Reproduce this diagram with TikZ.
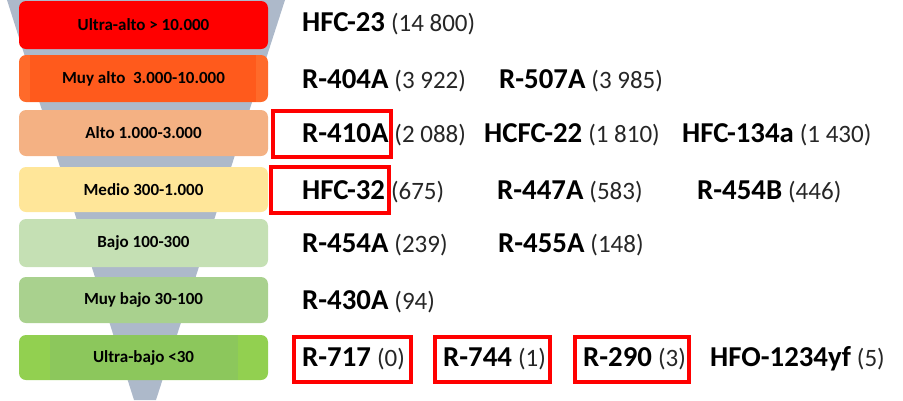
\documentclass[tikz,border=0pt]{standalone}
\usepackage{fontspec}
\setmainfont{Carlito}
\definecolor{funnelc}{HTML}{ADB9CA}
\definecolor{cA}{HTML}{FF0000}
\definecolor{cBo}{HTML}{FF6A2A}
\definecolor{cBi}{HTML}{FF5A1C}
\definecolor{cC}{HTML}{F4B183}
\definecolor{cD}{HTML}{FFE699}
\definecolor{cE}{HTML}{C5E0B4}
\definecolor{cF}{HTML}{A9D18E}
\definecolor{cGo}{HTML}{92D050}
\definecolor{cGi}{HTML}{8CC75C}
\definecolor{hlred}{HTML}{FF0000}
\definecolor{numc}{HTML}{262626}
\newcommand{\gnm}[1]{{\fontsize{28.8}{28.8}\selectfont\bfseries #1}}
\newcommand{\gwp}[1]{\hspace{6pt}{\fontsize{25}{25}\selectfont\color{numc}#1}}
\begin{document}
\begin{tikzpicture}[x=1pt,y=-1pt,
  lvl/.style={rounded corners=7pt},
  lab/.style={inner sep=0pt, font=\fontsize{17}{17}\selectfont\bfseries, text=black},
  ent/.style={anchor=base west, inner sep=0pt, text=black},
  hl/.style={draw=hlred, line width=3.5pt}]
\useasboundingbox (0,0) rectangle (903,400);
% funnel
\fill[funnelc] (7,0) -- (285,0) -- (156,400) -- (134,400) -- cycle;
% levels
\fill[cA,lvl] (19,1) rectangle (268,49);
\node[lab] (l1) at (143.5,25) {Ultra-alto > 10.000};
\fill[cBo,lvl] (19,55) rectangle (268,102);
\fill[cBi] (30,55) rectangle (256,102);
\node[lab] (l2) at (143.5,78.5) {Muy alto\ \ 3.000-10.000};
\fill[cC,lvl] (19,110) rectangle (268,156);
\node[lab] (l3) at (143.5,133) {Alto 1.000-3.000};
\fill[cD,lvl] (19,167) rectangle (268,212);
\node[lab] (l4) at (143.5,189.5) {Medio 300-1.000};
\fill[cE,lvl] (19,219) rectangle (268,267);
\node[lab] (l5) at (143.5,243) {Bajo 100-300};
\fill[cF,lvl] (19,277) rectangle (268,323);
\node[lab] (l6) at (143.5,300) {Muy bajo 30-100};
\fill[cGo,lvl] (19,335) rectangle (268,380);
\fill[cGi] (50,335) rectangle (238,380);
\node[lab] (l7) at (143.5,357.5) {Ultra-bajo <30};
% entries
\node[ent] (e11) at (302,31) {\gnm{HFC-23}\gwp{(14 800)}};
\node[ent] (e21) at (302,88) {\gnm{R-404A}\gwp{(3 922)}};
\node[ent] (e22) at (499,88) {\gnm{R-507A}\gwp{(3 985)}};
\node[ent] (e31) at (302,142) {\gnm{R-410A}\gwp{(2 088)}};
\node[ent] (e32) at (484,142) {\gnm{HCFC-22}\gwp{(1 810)}};
\node[ent] (e33) at (682,142) {\gnm{HFC-134a}\gwp{(1 430)}};
\node[ent] (e41) at (302,199) {\gnm{HFC-32}\gwp{(675)}};
\node[ent] (e42) at (497,199) {\gnm{R-447A}\gwp{(583)}};
\node[ent] (e43) at (697,199) {\gnm{R-454B}\gwp{(446)}};
\node[ent] (e51) at (302,252) {\gnm{R-454A}\gwp{(239)}};
\node[ent] (e52) at (498,252) {\gnm{R-455A}\gwp{(148)}};
\node[ent] (e61) at (302,309) {\gnm{R-430A}\gwp{(94)}};
\node[ent] (e71) at (302,366) {\gnm{R-717}\gwp{(0)}};
\node[ent] (e72) at (443,366) {\gnm{R-744}\gwp{(1)}};
\node[ent] (e73) at (583,366) {\gnm{R-290}\gwp{(3)}};
\node[ent] (e74) at (710,366) {\gnm{HFO-1234yf}\gwp{(5)}};
% highlight frames
\draw[hl] (273,111) rectangle (391,157);
\draw[hl] (271,167) rectangle (389,213);
\draw[hl] (294,337) rectangle (411,382);
\draw[hl] (435,337) rectangle (550,382);
\draw[hl] (575,337) rectangle (689,382);
\end{tikzpicture}
\end{document}
